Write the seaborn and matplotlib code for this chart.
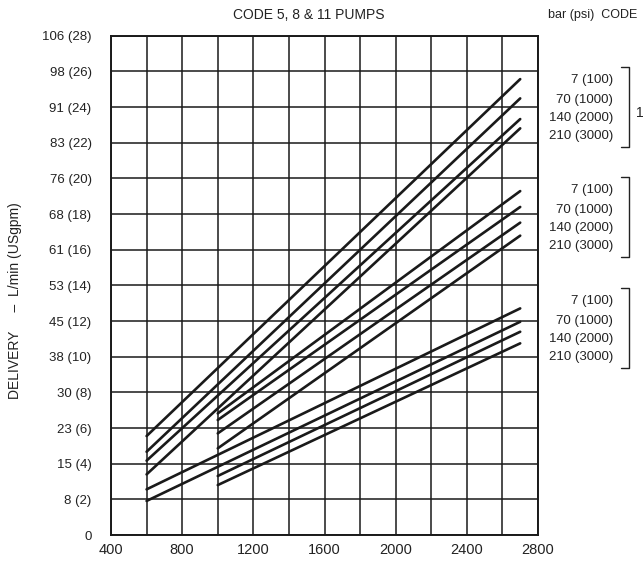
import pandas as pd
import matplotlib.pyplot as plt
import seaborn as sns
from matplotlib.lines import Line2D
from matplotlib.ticker import MultipleLocator

# Pump delivery lines (speed rpm vs delivery USgpm), codes 11, 8, 5
line_ids = ['11-7', '11-70', '11-140', '11-210',
            '8-7', '8-70', '8-140', '8-210',
            '5-7', '5-70', '5-140', '5-210']
rpm_start = [600, 600, 600, 600, 1000, 1000, 1000, 1000, 600, 600, 1000, 1000]
rpm_end = [2700] * 12
flow_start = [5.55, 4.67, 4.17, 3.40, 6.82, 6.45, 5.70, 4.86, 2.56, 1.91, 3.31, 2.80]
flow_end = [25.57, 24.49, 23.33, 22.81, 19.29, 18.40, 17.52, 16.79, 12.71, 11.96, 11.40, 10.75]

y_ticks = list(range(0, 30, 2))
y_labels = ['0', '8 (2)', '15 (4)', '23 (6)', '30 (8)', '38 (10)', '45 (12)', '53 (14)',
            '61 (16)', '68 (18)', '76 (20)', '83 (22)', '91 (24)', '98 (26)', '106 (28)']
x_ticks = [400, 800, 1200, 1600, 2000, 2400, 2800]

pressure_labels = ['7 (100)', '70 (1000)', '140 (2000)', '210 (3000)']

df = pd.DataFrame({
    'line': line_ids * 2,
    'rpm': rpm_start + rpm_end,
    'flow': flow_start + flow_end,
})

sns.set_style('white')
plt.rcParams['font.family'] = ['Liberation Sans', 'DejaVu Sans']
W, H = 643, 567
txt = '#222222'

fig = plt.figure(figsize=(W / 100, H / 100), dpi=100)
ax = fig.add_axes([111 / W, 1 - 535 / H, (538 - 111) / W, (535 - 35.8) / H])

sns.lineplot(data=df, x='rpm', y='flow', units='line', estimator=None,
             color='#1a1a1a', lw=1.9, ax=ax, legend=False)

ax.set_xlim(400, 2800)
ax.set_ylim(0, 28)
ax.xaxis.set_minor_locator(MultipleLocator(200))
ax.set_xticks(x_ticks)
ax.set_xticklabels(x_ticks, fontsize=10.5)
ax.set_yticks(y_ticks)
ax.set_yticklabels(y_labels, fontsize=9.5)
ax.tick_params(axis='both', which='both', length=0, colors=txt)
ax.tick_params(axis='y', pad=14)
ax.tick_params(axis='x', pad=6)
ax.grid(True, which='both', color='#1a1a1a', lw=1.1)
ax.set_axisbelow(True)
for s in ax.spines.values():
    s.set_color('#1a1a1a')
    s.set_linewidth(1.4)
ax.set_xlabel('')
ax.set_ylabel('')

def px(x, y):
    return x / W, 1 - y / H

fig.text(*px(309, 15), 'CODE 5, 8 & 11 PUMPS', ha='center', va='center', fontsize=10, color=txt)
fig.text(*px(548, 15), 'bar (psi)  CODE', ha='left', va='center', fontsize=9, color=txt)
fig.text(*px(15, 301), 'DELIVERY     \u2013  L/min (USgpm)', ha='center', va='center',
         rotation=90, fontsize=10, color=txt)

group_offsets = [0, 110, 221]
label_rows = [80, 100, 118, 136]
for off in group_offsets:
    for lab, yy in zip(pressure_labels, label_rows):
        fig.text(*px(613, yy + off), lab, ha='right', va='center', fontsize=9.5, color=txt)
    xs = [621 / W, 629 / W, 629 / W, 621 / W]
    ys = [1 - (67 + off) / H, 1 - (67 + off) / H, 1 - (147 + off) / H, 1 - (147 + off) / H]
    fig.add_artist(Line2D(xs, ys, transform=fig.transFigure, color=txt, lw=1.0))

fig.text(*px(636, 113), '1', ha='left', va='center', fontsize=10, color=txt)

plt.savefig('out.png', dpi=100)
